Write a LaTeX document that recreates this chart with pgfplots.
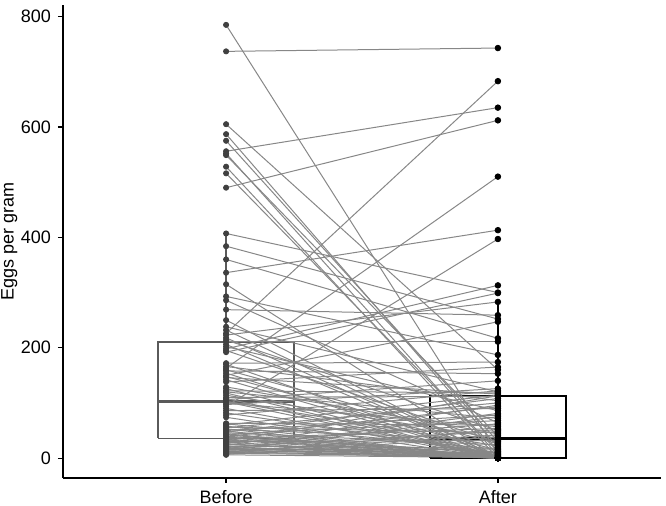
\documentclass[border=0pt]{standalone}
\usepackage{pgfplots}
\pgfplotsset{compat=1.18}
\usepackage{pgfplotstable}
\usepackage{fontspec}
\setmainfont{Liberation Sans}

\definecolor{linegray}{RGB}{135,135,135}
\definecolor{ptgray}{RGB}{64,64,64}
\definecolor{boxgray}{RGB}{90,90,90}

% b = before, a = after (eggs per gram), one row per animal
\pgfplotstableread{
b a
785 9
737 743
605 160
587 20
575 30
556 635
552 5
549 40
528 0
516 12
490 612
407 300
384 252
360 217
336 413
315 0
293 187
286 64
269 259
250 0
238 120
232 2
226 683
223 283
218 0
214 50
211 211
206 0
202 86
198 313
195 28
192 299
172 174
170 0
166 104
163 510
160 26
158 153
154 0
150 247
148 14
146 116
142 0
138 165
129 44
126 0
122 118
120 72
118 0
114 36
110 112
108 0
106 140
103 22
102 0
100 57
97 126
94 397
90 0
86 90
82 8
78 122
74 0
63 60
62 16
60 114
58 0
56 46
55 100
53 0
52 34
50 78
49 0
47 108
46 24
44 0
43 68
42 4
40 0
39 93
38 11
37 0
35 54
34 3
33 0
31 113
30 32
29 0
27 62
26 1
25 0
23 96
22 18
21 0
20 48
19 7
18 0
17 81
16 15
15 0
14 75
13 10
12 0
11 42
10 6
9 2
8 52
7 38
6 1
}\pairs

\begin{document}
\begin{tikzpicture}
\begin{axis}[
    scale only axis,
    width=299pt, height=236.5pt,
    xmin=0.4, xmax=2.6,
    ymin=-36, ymax=821,
    axis x line*=bottom, axis y line*=left,
    axis line style={line width=0.7pt, -},
    xtick={1,2}, xticklabels={Before,After},
    ytick={0,200,400,600,800}, yticklabels={0,200,400,600,800},
    tick align=outside, major tick length=2.5pt,
    tick style={line width=0.6pt, black},
    ylabel={Eggs per gram},
    ylabel style={at={(axis description cs:-0.09,0.5)}, anchor=center},
    tick label style={font=\fontsize{9}{10}\selectfont},
    label style={font=\fontsize{9}{10}\selectfont},
    ]
    % boxes first (quartiles), lines and points on top
    \addplot[draw=boxgray, fill=white, line width=0.7pt]
        coordinates {(0.75,35.7) (1.25,35.7) (1.25,210.7) (0.75,210.7) (0.75,35.7)};
    \addplot[draw=boxgray, line width=0.7pt] coordinates {(1,210.7) (1,407)};
    \addplot[draw=boxgray, line width=0.7pt] coordinates {(1,35.7) (1,6)};
    \addplot[draw=boxgray, line width=1.4pt] coordinates {(0.75,102) (1.25,102)};

    \addplot[draw=black, fill=white, line width=0.7pt]
        coordinates {(1.75,0) (2.25,0) (2.25,112.8) (1.75,112.8) (1.75,0)};
    \addplot[draw=black, line width=0.7pt] coordinates {(2,112.8) (2,283)};
    \addplot[draw=black, line width=1.4pt] coordinates {(1.75,35.7) (2.25,35.7)};

    % one segment per animal
    \pgfplotsinvokeforeach{0,...,108}{
        \pgfplotstablegetelem{#1}{b}\of\pairs \let\vb=\pgfplotsretval
        \pgfplotstablegetelem{#1}{a}\of\pairs \let\va=\pgfplotsretval
        \edef\seg{\noexpand\addplot[draw=linegray, line width=0.5pt]
            coordinates {(1,\vb) (2,\va)};}
        \seg
    }

    \addplot[only marks, mark=*, mark size=1.3pt,
        mark options={draw=ptgray, fill=ptgray}]
        table[x expr=1, y=b] {\pairs};
    \addplot[only marks, mark=*, mark size=1.4pt,
        mark options={draw=black, fill=black}]
        table[x expr=2, y=a] {\pairs};
\end{axis}
% canvas matching the reference's margins around the axis box
\pgfresetboundingbox
\path (-31.5pt,-14pt) rectangle (301.5pt,239pt);
\end{tikzpicture}
\end{document}
